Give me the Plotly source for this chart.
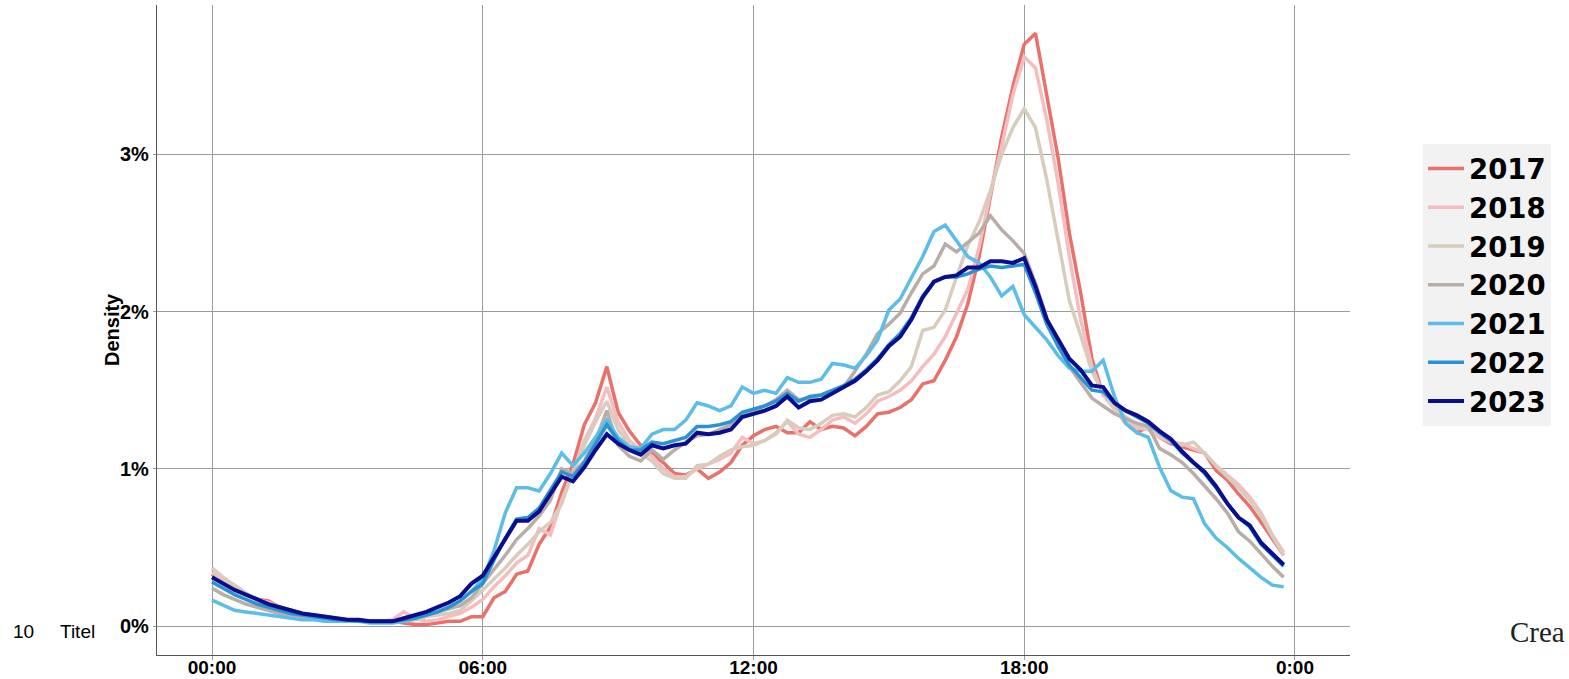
import plotly.graph_objects as go

# quarter-hour time points (hours)
hours = [i * 0.25 for i in range(96)]

years = ["2017", "2018", "2019", "2020", "2021", "2022", "2023"]
colors = ["#E8716B", "#F4BEC1", "#D8CCBC", "#B9ADA8", "#5CBDE8", "#2A92D2", "#0A0D8C"]

d2017 = [0.33, 0.28, 0.24, 0.20, 0.17, 0.16, 0.12, 0.10, 0.08, 0.06, 0.05, 0.04,
         0.04, 0.03, 0.03, 0.03, 0.03, 0.02, 0.01, 0.01, 0.02, 0.03, 0.03, 0.06,
         0.06, 0.18, 0.22, 0.33, 0.35, 0.52, 0.63, 0.85, 1.03, 1.28, 1.42, 1.65,
         1.36, 1.24, 1.15, 1.10, 1.04, 0.97, 0.96, 1.00, 0.94, 0.98, 1.04, 1.15,
         1.21, 1.25, 1.27, 1.23, 1.23, 1.30, 1.25, 1.27, 1.26, 1.21, 1.27, 1.35,
         1.36, 1.39, 1.44, 1.54, 1.56, 1.69, 1.84, 2.05, 2.35, 2.72, 3.11, 3.43,
         3.70, 3.77, 3.37, 2.98, 2.50, 2.12, 1.70, 1.47, 1.39, 1.29, 1.23, 1.27,
         1.20, 1.16, 1.14, 1.12, 1.10, 0.99, 0.93, 0.84, 0.76, 0.66, 0.55, 0.45]

d2018 = [0.34, 0.29, 0.24, 0.20, 0.17, 0.15, 0.12, 0.10, 0.08, 0.07, 0.06, 0.05,
         0.04, 0.04, 0.03, 0.03, 0.04, 0.09, 0.05, 0.03, 0.04, 0.06, 0.08, 0.12,
         0.17, 0.25, 0.32, 0.40, 0.45, 0.62, 0.58, 0.80, 0.98, 1.18, 1.32, 1.52,
         1.30, 1.18, 1.12, 1.08, 1.00, 0.95, 0.95, 1.00, 1.03, 1.06, 1.10, 1.20,
         1.16, 1.18, 1.23, 1.30, 1.22, 1.20, 1.25, 1.31, 1.33, 1.29, 1.35, 1.43,
         1.46, 1.50, 1.56, 1.65, 1.73, 1.84, 1.99, 2.14, 2.41, 2.75, 3.05, 3.38,
         3.62, 3.55, 3.22, 2.82, 2.35, 1.95, 1.65, 1.47, 1.38, 1.30, 1.26, 1.25,
         1.20, 1.17, 1.16, 1.13, 1.10, 1.02, 0.96, 0.90, 0.82, 0.72, 0.58, 0.47]

d2019 = [0.37, 0.31, 0.26, 0.21, 0.17, 0.14, 0.12, 0.10, 0.08, 0.07, 0.06, 0.05,
         0.04, 0.04, 0.03, 0.03, 0.03, 0.03, 0.04, 0.06, 0.07, 0.08, 0.10, 0.16,
         0.23, 0.30, 0.37, 0.45, 0.52, 0.60, 0.66, 0.78, 0.98, 1.15, 1.30, 1.43,
         1.25, 1.15, 1.10, 1.05, 0.97, 0.94, 0.94, 1.02, 1.03, 1.08, 1.12, 1.14,
         1.15, 1.18, 1.22, 1.31, 1.26, 1.25, 1.29, 1.34, 1.35, 1.33, 1.39, 1.47,
         1.49, 1.56, 1.65, 1.88, 1.90, 2.01, 2.22, 2.42, 2.57, 2.77, 3.00, 3.17,
         3.29, 3.17, 2.84, 2.45, 2.07, 1.85, 1.62, 1.48, 1.38, 1.33, 1.28, 1.25,
         1.22, 1.18, 1.15, 1.17, 1.10, 1.02, 0.95, 0.88, 0.80, 0.70, 0.57, 0.45]

d2020 = [0.24, 0.20, 0.17, 0.14, 0.12, 0.10, 0.08, 0.07, 0.06, 0.05, 0.04, 0.04,
         0.03, 0.03, 0.03, 0.03, 0.03, 0.04, 0.05, 0.07, 0.09, 0.11, 0.13, 0.18,
         0.27, 0.36, 0.45, 0.55, 0.62, 0.70, 0.80, 1.00, 0.97, 1.05, 1.18, 1.37,
         1.15, 1.08, 1.05, 1.12, 1.06, 1.12, 1.17, 1.21, 1.22, 1.25, 1.28, 1.35,
         1.37, 1.40, 1.44, 1.50, 1.44, 1.45, 1.47, 1.49, 1.52, 1.62, 1.73, 1.86,
         1.92, 1.99, 2.12, 2.24, 2.29, 2.43, 2.38, 2.44, 2.50, 2.61, 2.52, 2.45,
         2.37, 2.18, 1.96, 1.78, 1.65, 1.55, 1.45, 1.40, 1.35, 1.32, 1.29, 1.27,
         1.13, 1.09, 1.04, 0.97, 0.89, 0.81, 0.72, 0.60, 0.54, 0.46, 0.38, 0.31]

d2021 = [0.165, 0.13, 0.10, 0.09, 0.08, 0.07, 0.06, 0.05, 0.04, 0.04, 0.03, 0.03,
         0.03, 0.03, 0.02, 0.02, 0.02, 0.03, 0.05, 0.07, 0.09, 0.12, 0.16, 0.22,
         0.30, 0.48, 0.72, 0.88, 0.88, 0.86, 0.97, 1.10, 1.02, 1.10, 1.20, 1.31,
         1.20, 1.14, 1.13, 1.22, 1.25, 1.25, 1.31, 1.42, 1.40, 1.37, 1.40, 1.52,
         1.48, 1.50, 1.48, 1.58, 1.55, 1.55, 1.57, 1.67, 1.66, 1.64, 1.72, 1.82,
         2.01, 2.08, 2.22, 2.35, 2.51, 2.55, 2.45, 2.35, 2.31, 2.22, 2.10, 2.16,
         1.98, 1.90, 1.82, 1.72, 1.64, 1.62, 1.62, 1.69, 1.46, 1.29, 1.23, 1.20,
         1.01, 0.86, 0.82, 0.81, 0.65, 0.56, 0.50, 0.43, 0.37, 0.31, 0.26, 0.25]

d2022 = [0.28, 0.24, 0.20, 0.17, 0.14, 0.12, 0.10, 0.08, 0.07, 0.06, 0.05, 0.04,
         0.04, 0.03, 0.03, 0.03, 0.03, 0.04, 0.05, 0.07, 0.09, 0.12, 0.16, 0.22,
         0.27, 0.42, 0.56, 0.68, 0.69, 0.75, 0.86, 0.98, 0.95, 1.04, 1.16, 1.28,
         1.18, 1.12, 1.12, 1.17, 1.16, 1.18, 1.20, 1.27, 1.27, 1.28, 1.30, 1.36,
         1.38, 1.40, 1.43, 1.48, 1.43, 1.46, 1.47, 1.50, 1.53, 1.57, 1.63, 1.70,
         1.79, 1.86, 1.96, 2.10, 2.19, 2.22, 2.22, 2.24, 2.27, 2.29, 2.28, 2.29,
         2.30, 2.12, 1.92, 1.78, 1.66, 1.58, 1.50, 1.49, 1.42, 1.37, 1.33, 1.29,
         1.23, 1.18, 1.10, 1.04, 0.97, 0.88, 0.78, 0.69, 0.63, 0.52, 0.45, 0.38]

d2023 = [0.31, 0.27, 0.23, 0.20, 0.17, 0.14, 0.12, 0.10, 0.08, 0.07, 0.06, 0.05,
         0.04, 0.04, 0.03, 0.03, 0.03, 0.05, 0.07, 0.09, 0.12, 0.15, 0.19, 0.27,
         0.32, 0.44, 0.55, 0.67, 0.67, 0.73, 0.84, 0.95, 0.92, 1.01, 1.12, 1.22,
         1.16, 1.12, 1.09, 1.15, 1.13, 1.15, 1.16, 1.23, 1.22, 1.23, 1.25, 1.33,
         1.35, 1.37, 1.40, 1.46, 1.39, 1.43, 1.44, 1.48, 1.52, 1.56, 1.62, 1.69,
         1.78, 1.84, 1.95, 2.09, 2.19, 2.22, 2.23, 2.28, 2.28, 2.32, 2.32, 2.31,
         2.34, 2.16, 1.95, 1.82, 1.70, 1.63, 1.53, 1.52, 1.42, 1.37, 1.34, 1.30,
         1.24, 1.19, 1.11, 1.04, 0.98, 0.89, 0.78, 0.69, 0.64, 0.53, 0.46, 0.39]

series = [d2017, d2018, d2019, d2020, d2021, d2022, d2023]

x_tickvals = [0, 6, 12, 18, 24]
x_ticktext = ["00:00", "06:00", "12:00", "18:00", "0:00"]
y_tickvals = [0, 1, 2, 3]
y_ticktext = ["0%", "1%", "2%", "3%"]

fig = go.Figure()
for name, col, vals in zip(years, colors, series):
    fig.add_trace(go.Scatter(
        x=hours, y=vals, name=name, mode="lines",
        line=dict(color=col, width=4 if name == "2023" else 3.5),
    ))

W, H = 1569, 679
L, R, T, B = 157, 219, 5, 24
pw = W - L - R
ph = H - T - B

fig.update_layout(
    width=W, height=H,
    margin=dict(l=L, r=R, t=T, b=B, autoexpand=False),
    paper_bgcolor="white", plot_bgcolor="white",
    showlegend=True,
    legend=dict(
        x=(1423 - L) / pw, xanchor="left",
        y=(655 - 144) / ph, yanchor="top",
        bgcolor="#f2f2f2", borderwidth=0,
        font=dict(family="DejaVu Sans", size=27.5, color="black", weight="bold"),
        itemwidth=36,
        tracegroupgap=0,
    ),
    font=dict(family="Liberation Sans, Arial", color="black"),
)

fig.update_xaxes(
    range=[-1.219, 25.22],
    tickvals=x_tickvals, ticktext=x_ticktext,
    tickfont=dict(family="Liberation Sans, Arial", size=19, color="black", weight="bold"),
    showgrid=True, gridcolor="#9c9c9c", gridwidth=1,
    showline=True, linecolor="#555555", linewidth=1.3,
    ticks="outside", ticklen=4, tickcolor="#9c9c9c",
    ticklabelstandoff=-9,
    zeroline=False,
)
fig.update_yaxes(
    range=[-0.184, 3.95],
    tickvals=y_tickvals, ticktext=y_ticktext,
    tickfont=dict(family="Liberation Sans, Arial", size=20, color="black", weight="bold"),
    showgrid=True, gridcolor="#9c9c9c", gridwidth=1,
    showline=True, linecolor="#555555", linewidth=1.3,
    ticks="outside", ticklen=3, tickcolor="#9c9c9c",
    zeroline=False,
)

fig.add_annotation(
    text="Density", textangle=-90,
    xref="paper", yref="paper", x=(112 - L) / pw, y=0.5,
    xanchor="center", yanchor="middle", showarrow=False,
    font=dict(family="Liberation Sans, Arial", size=20, color="black", weight="bold"),
)
fig.add_annotation(
    text="10", xref="paper", yref="paper",
    x=(11 - L) / pw, y=(655 - 631) / ph,
    xanchor="left", yanchor="middle", showarrow=False,
    font=dict(family="Liberation Sans, Arial", size=19, color="black"),
)
fig.add_annotation(
    text="Titel", xref="paper", yref="paper",
    x=(58 - L) / pw, y=(655 - 631) / ph,
    xanchor="left", yanchor="middle", showarrow=False,
    font=dict(family="Liberation Sans, Arial", size=19, color="black"),
)
fig.add_annotation(
    text="Crea", xref="paper", yref="paper",
    x=(1508 - L) / pw, y=(655 - 632) / ph,
    xanchor="left", yanchor="middle", showarrow=False,
    font=dict(family="Liberation Serif", size=29, color="#222222"),
)

fig.write_html(
    "out.html",
    config={"displayModeBar": False},
    post_script="document.body.style.margin='0';document.body.style.padding='0';",
)
